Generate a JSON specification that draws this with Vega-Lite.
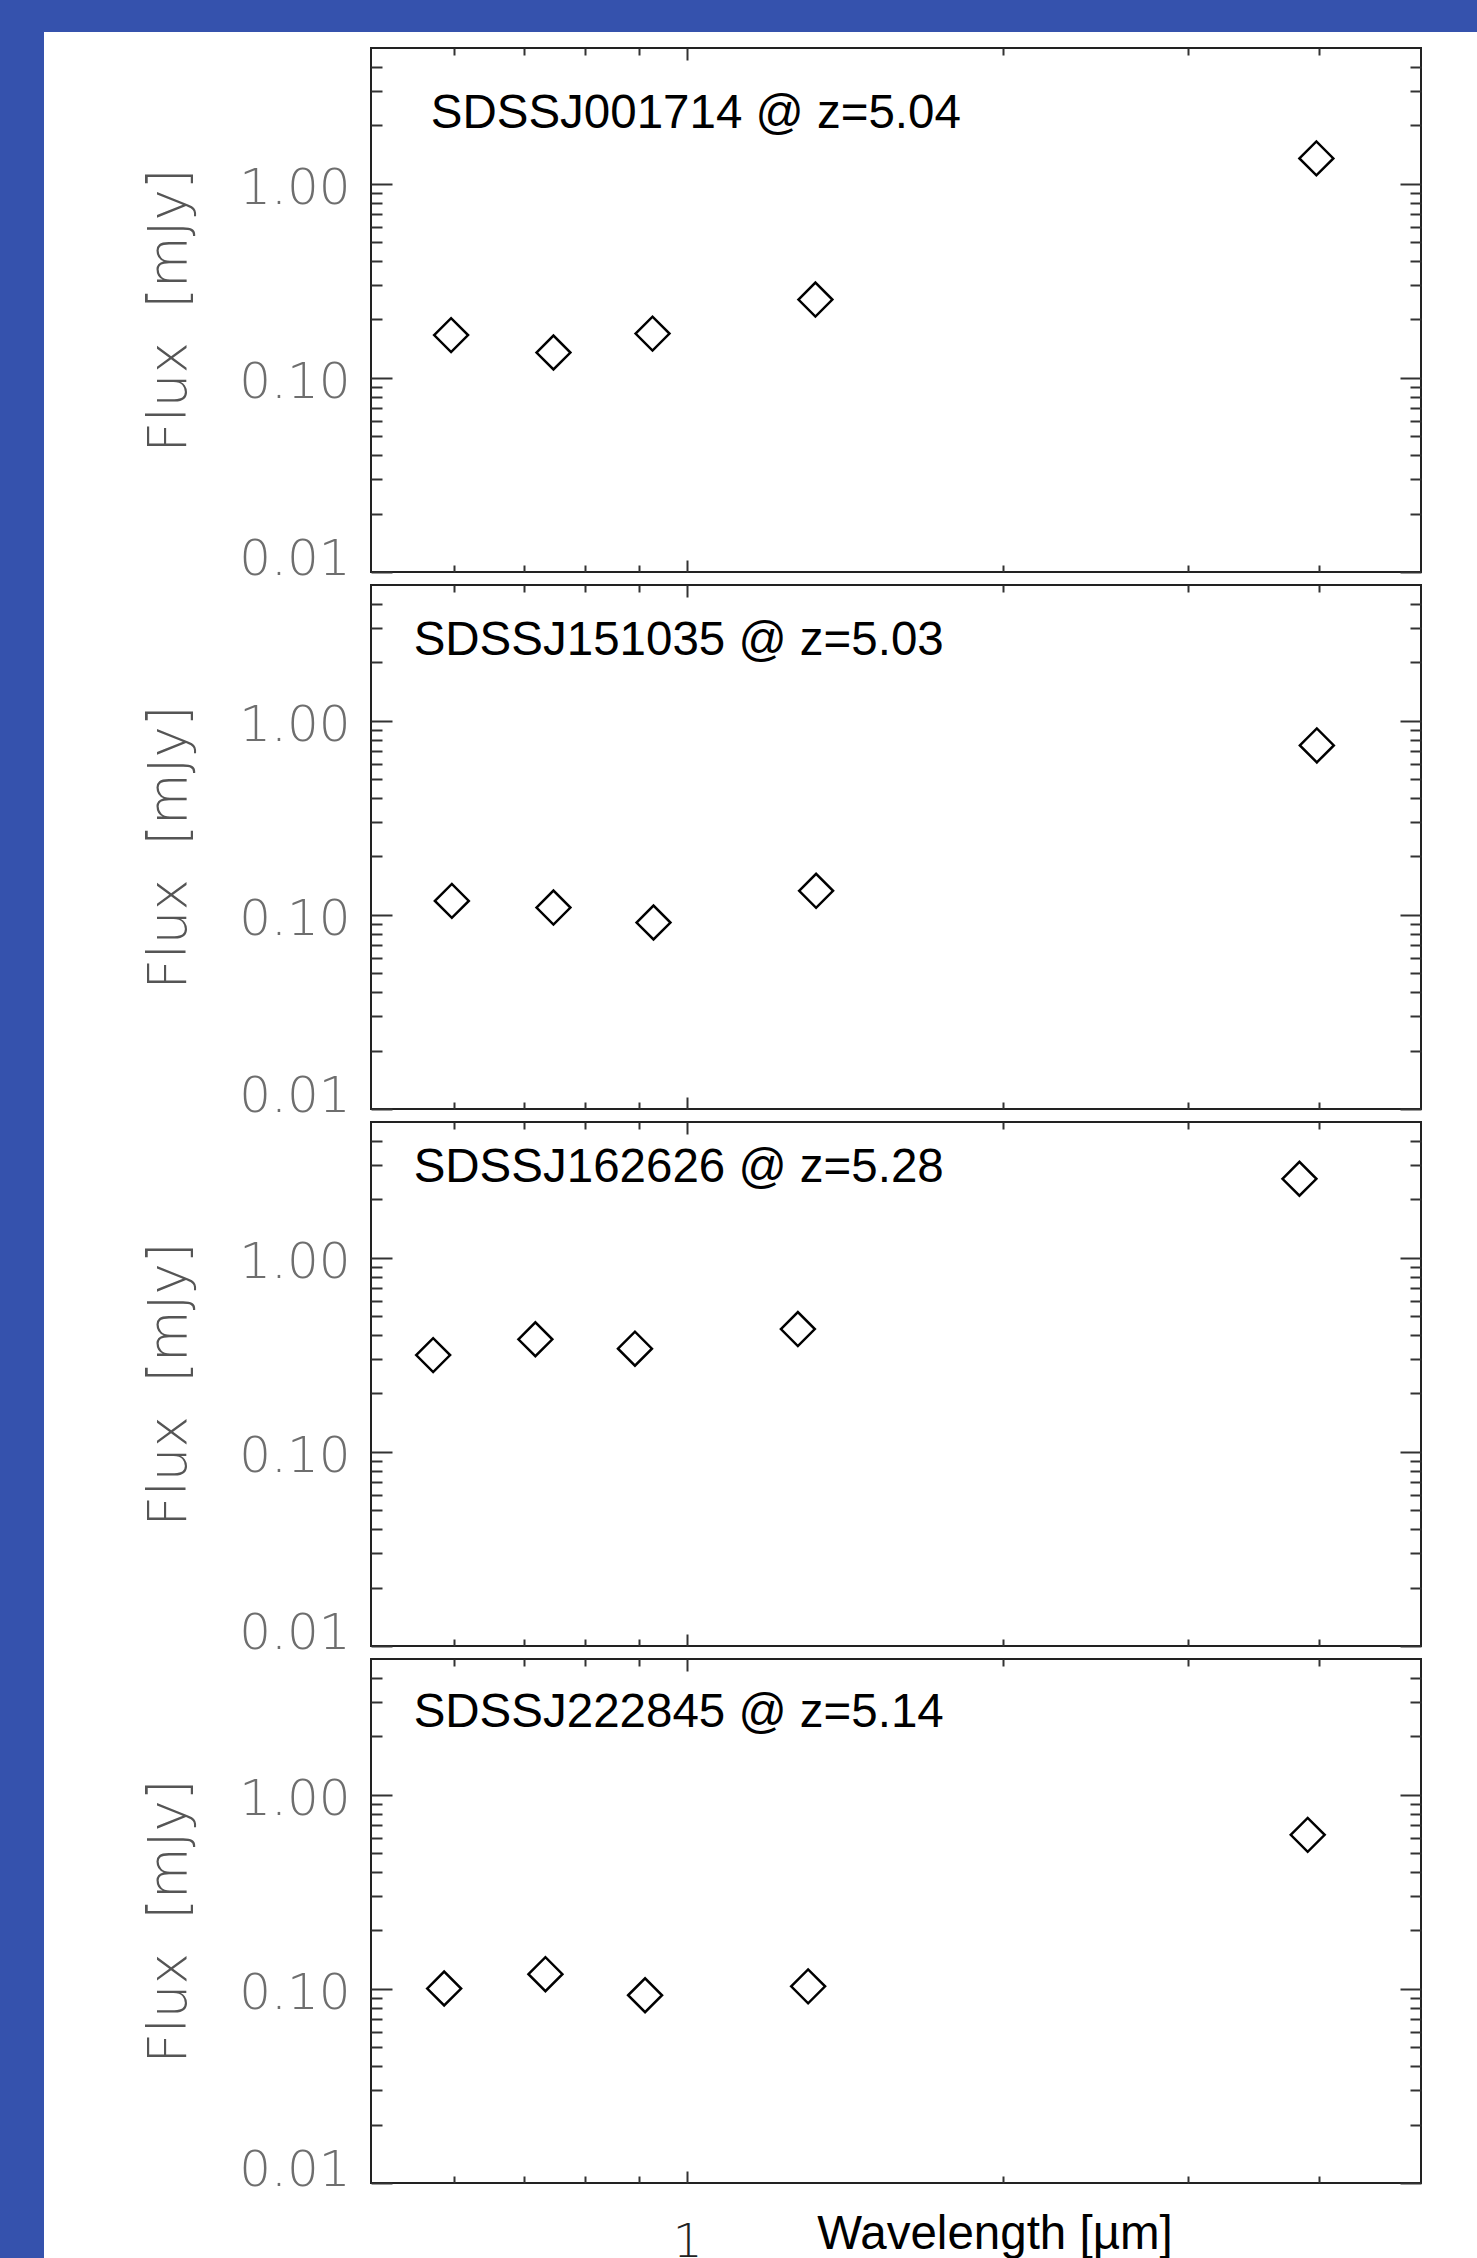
{
  "$schema": "https://vega.github.io/schema/vega-lite/v6.json",
  "background": "white",
  "padding": {"left": 0, "top": 0, "right": 0, "bottom": 0},
  "bounds": "flush",
  "spacing": 0,
  "config": {
    "view": {"stroke": "#222222", "strokeWidth": 2, "fill": "white"},
    "axis": {
      "domain": false,
      "grid": false,
      "tickColor": "#333333",
      "tickWidth": 2,
      "labelFont": "DejaVu Sans",
      "labelFontWeight": 200,
      "labelFontSize": 50,
      "labelColor": "#6e6e6e"
    }
  },
  "datasets": {
    "sed": [
      {"quasar": "SDSSJ001714", "wavelength": 0.596, "flux": 0.166},
      {"quasar": "SDSSJ001714", "wavelength": 0.746, "flux": 0.135},
      {"quasar": "SDSSJ001714", "wavelength": 0.927, "flux": 0.169},
      {"quasar": "SDSSJ001714", "wavelength": 1.325, "flux": 0.253},
      {"quasar": "SDSSJ001714", "wavelength": 3.975, "flux": 1.35},
      {"quasar": "SDSSJ151035", "wavelength": 0.597, "flux": 0.118},
      {"quasar": "SDSSJ151035", "wavelength": 0.746, "flux": 0.109},
      {"quasar": "SDSSJ151035", "wavelength": 0.929, "flux": 0.0913},
      {"quasar": "SDSSJ151035", "wavelength": 1.327, "flux": 0.133},
      {"quasar": "SDSSJ151035", "wavelength": 3.979, "flux": 0.746},
      {"quasar": "SDSSJ162626", "wavelength": 0.573, "flux": 0.315},
      {"quasar": "SDSSJ162626", "wavelength": 0.717, "flux": 0.38},
      {"quasar": "SDSSJ162626", "wavelength": 0.892, "flux": 0.34},
      {"quasar": "SDSSJ162626", "wavelength": 1.275, "flux": 0.429},
      {"quasar": "SDSSJ162626", "wavelength": 3.83, "flux": 2.55},
      {"quasar": "SDSSJ222845", "wavelength": 0.587, "flux": 0.1004},
      {"quasar": "SDSSJ222845", "wavelength": 0.733, "flux": 0.119},
      {"quasar": "SDSSJ222845", "wavelength": 0.912, "flux": 0.0927},
      {"quasar": "SDSSJ222845", "wavelength": 1.304, "flux": 0.103},
      {"quasar": "SDSSJ222845", "wavelength": 3.9, "flux": 0.621}
    ]
  },
  "vconcat": [
    {
      "width": 1477, "height": 32,
      "view": {"fill": "#3552ad", "stroke": null},
      "data": {"values": []},
      "mark": "point"
    },
    {
      "bounds": "flush",
      "spacing": 327,
      "hconcat": [
        {
          "width": 44, "height": 2226,
          "view": {"fill": "#3552ad", "stroke": null},
          "data": {"values": []},
          "mark": "point"
        },
        {
          "bounds": "flush",
          "spacing": 13,
          "vconcat": [
            {
              "width": 1050, "height": 2.5,
              "view": {"fill": null, "stroke": null},
              "data": {"values": []},
              "mark": "point"
            },
            {
              "width": 1050, "height": 524,
              "layer": [
                {
                  "data": {"name": "sed"},
                  "transform": [{"filter": "datum.quasar === 'SDSSJ001714'"}],
                  "mark": {"type": "point", "shape": "diamond", "size": 1150, "filled": false, "stroke": "black", "strokeWidth": 2.5, "opacity": 1},
                  "encoding": {
                    "x": {"field": "wavelength", "type": "quantitative", "scale": {"type": "log", "domain": [0.5, 5], "nice": false},
                      "axis": {"orient": "bottom", "values": [0.6, 0.7, 0.8, 0.9, 1, 2, 3, 4], "tickSize": {"condition": {"test": "datum.value == 1", "value": -12}, "value": -7}, "labels": false, "title": null}},
                    "y": {"field": "flux", "type": "quantitative", "scale": {"type": "log", "domain": [0.01, 5], "nice": false},
                      "axis": {"orient": "left", "values": [0.01, 0.02, 0.03, 0.04, 0.05, 0.06, 0.07, 0.08, 0.09, 0.1, 0.2, 0.3, 0.4, 0.5, 0.6, 0.7, 0.8, 0.9, 1, 2, 3, 4],
                        "tickSize": {"condition": {"test": "abs(log(datum.value)/LN10 - round(log(datum.value)/LN10)) < 0.001", "value": -21}, "value": -11},
                        "labelExpr": "abs(log(datum.value)/LN10 - round(log(datum.value)/LN10)) < 0.001 ? format(datum.value, '.2f') : ''",
                        "labelPadding": 42, "labelOffset": 5, "labelFlush": true, "labelFlushOffset": 7,
                        "title": "Flux\u00a0\u00a0[mJy]", "titleFont": "DejaVu Sans", "titleFontWeight": 200, "titleFontSize": 53, "titleColor": "#555555",
                        "titleX": -202, "titleBaseline": "middle"}}
                  }
                },
                {
                  "data": {"values": [{"label": "SDSSJ001714 @ z=5.04"}]},
                  "mark": {"type": "text", "font": "Liberation Sans", "fontSize": 47.5, "align": "left", "baseline": "alphabetic", "color": "black"},
                  "encoding": {
                    "x": {"datum": 0.57, "type": "quantitative", "scale": {"type": "log", "domain": [0.5, 5], "nice": false},
                      "axis": {"orient": "top", "values": [0.6, 0.7, 0.8, 0.9, 1, 2, 3, 4], "tickSize": {"condition": {"test": "datum.value == 1", "value": -12}, "value": -7}, "labels": false, "title": null}},
                    "y": {"datum": 1.94, "type": "quantitative", "scale": {"type": "log", "domain": [0.01, 5], "nice": false},
                      "axis": {"orient": "right", "values": [0.01, 0.02, 0.03, 0.04, 0.05, 0.06, 0.07, 0.08, 0.09, 0.1, 0.2, 0.3, 0.4, 0.5, 0.6, 0.7, 0.8, 0.9, 1, 2, 3, 4],
                        "tickSize": {"condition": {"test": "abs(log(datum.value)/LN10 - round(log(datum.value)/LN10)) < 0.001", "value": -21}, "value": -11},
                        "labels": false, "title": null}},
                    "text": {"field": "label"}
                  }
                }
              ],
              "resolve": {"axis": {"x": "independent", "y": "independent"}}
            },
            {
              "width": 1050, "height": 524,
              "layer": [
                {
                  "data": {"name": "sed"},
                  "transform": [{"filter": "datum.quasar === 'SDSSJ151035'"}],
                  "mark": {"type": "point", "shape": "diamond", "size": 1150, "filled": false, "stroke": "black", "strokeWidth": 2.5, "opacity": 1},
                  "encoding": {
                    "x": {"field": "wavelength", "type": "quantitative", "scale": {"type": "log", "domain": [0.5, 5], "nice": false},
                      "axis": {"orient": "bottom", "values": [0.6, 0.7, 0.8, 0.9, 1, 2, 3, 4], "tickSize": {"condition": {"test": "datum.value == 1", "value": -12}, "value": -7}, "labels": false, "title": null}},
                    "y": {"field": "flux", "type": "quantitative", "scale": {"type": "log", "domain": [0.01, 5], "nice": false},
                      "axis": {"orient": "left", "values": [0.01, 0.02, 0.03, 0.04, 0.05, 0.06, 0.07, 0.08, 0.09, 0.1, 0.2, 0.3, 0.4, 0.5, 0.6, 0.7, 0.8, 0.9, 1, 2, 3, 4],
                        "tickSize": {"condition": {"test": "abs(log(datum.value)/LN10 - round(log(datum.value)/LN10)) < 0.001", "value": -21}, "value": -11},
                        "labelExpr": "abs(log(datum.value)/LN10 - round(log(datum.value)/LN10)) < 0.001 ? format(datum.value, '.2f') : ''",
                        "labelPadding": 42, "labelOffset": 5, "labelFlush": true, "labelFlushOffset": 7,
                        "title": "Flux\u00a0\u00a0[mJy]", "titleFont": "DejaVu Sans", "titleFontWeight": 200, "titleFontSize": 53, "titleColor": "#555555",
                        "titleX": -202, "titleBaseline": "middle"}}
                  }
                },
                {
                  "data": {"values": [{"label": "SDSSJ151035 @ z=5.03"}]},
                  "mark": {"type": "text", "font": "Liberation Sans", "fontSize": 47.5, "align": "left", "baseline": "alphabetic", "color": "black"},
                  "encoding": {
                    "x": {"datum": 0.549, "type": "quantitative", "scale": {"type": "log", "domain": [0.5, 5], "nice": false},
                      "axis": {"orient": "top", "values": [0.6, 0.7, 0.8, 0.9, 1, 2, 3, 4], "tickSize": {"condition": {"test": "datum.value == 1", "value": -12}, "value": -7}, "labels": false, "title": null}},
                    "y": {"datum": 2.17, "type": "quantitative", "scale": {"type": "log", "domain": [0.01, 5], "nice": false},
                      "axis": {"orient": "right", "values": [0.01, 0.02, 0.03, 0.04, 0.05, 0.06, 0.07, 0.08, 0.09, 0.1, 0.2, 0.3, 0.4, 0.5, 0.6, 0.7, 0.8, 0.9, 1, 2, 3, 4],
                        "tickSize": {"condition": {"test": "abs(log(datum.value)/LN10 - round(log(datum.value)/LN10)) < 0.001", "value": -21}, "value": -11},
                        "labels": false, "title": null}},
                    "text": {"field": "label"}
                  }
                }
              ],
              "resolve": {"axis": {"x": "independent", "y": "independent"}}
            },
            {
              "width": 1050, "height": 524,
              "layer": [
                {
                  "data": {"name": "sed"},
                  "transform": [{"filter": "datum.quasar === 'SDSSJ162626'"}],
                  "mark": {"type": "point", "shape": "diamond", "size": 1150, "filled": false, "stroke": "black", "strokeWidth": 2.5, "opacity": 1},
                  "encoding": {
                    "x": {"field": "wavelength", "type": "quantitative", "scale": {"type": "log", "domain": [0.5, 5], "nice": false},
                      "axis": {"orient": "bottom", "values": [0.6, 0.7, 0.8, 0.9, 1, 2, 3, 4], "tickSize": {"condition": {"test": "datum.value == 1", "value": -12}, "value": -7}, "labels": false, "title": null}},
                    "y": {"field": "flux", "type": "quantitative", "scale": {"type": "log", "domain": [0.01, 5], "nice": false},
                      "axis": {"orient": "left", "values": [0.01, 0.02, 0.03, 0.04, 0.05, 0.06, 0.07, 0.08, 0.09, 0.1, 0.2, 0.3, 0.4, 0.5, 0.6, 0.7, 0.8, 0.9, 1, 2, 3, 4],
                        "tickSize": {"condition": {"test": "abs(log(datum.value)/LN10 - round(log(datum.value)/LN10)) < 0.001", "value": -21}, "value": -11},
                        "labelExpr": "abs(log(datum.value)/LN10 - round(log(datum.value)/LN10)) < 0.001 ? format(datum.value, '.2f') : ''",
                        "labelPadding": 42, "labelOffset": 5, "labelFlush": true, "labelFlushOffset": 7,
                        "title": "Flux\u00a0\u00a0[mJy]", "titleFont": "DejaVu Sans", "titleFontWeight": 200, "titleFontSize": 53, "titleColor": "#555555",
                        "titleX": -202, "titleBaseline": "middle"}}
                  }
                },
                {
                  "data": {"values": [{"label": "SDSSJ162626 @ z=5.28"}]},
                  "mark": {"type": "text", "font": "Liberation Sans", "fontSize": 47.5, "align": "left", "baseline": "alphabetic", "color": "black"},
                  "encoding": {
                    "x": {"datum": 0.549, "type": "quantitative", "scale": {"type": "log", "domain": [0.5, 5], "nice": false},
                      "axis": {"orient": "top", "values": [0.6, 0.7, 0.8, 0.9, 1, 2, 3, 4], "tickSize": {"condition": {"test": "datum.value == 1", "value": -12}, "value": -7}, "labels": false, "title": null}},
                    "y": {"datum": 2.44, "type": "quantitative", "scale": {"type": "log", "domain": [0.01, 5], "nice": false},
                      "axis": {"orient": "right", "values": [0.01, 0.02, 0.03, 0.04, 0.05, 0.06, 0.07, 0.08, 0.09, 0.1, 0.2, 0.3, 0.4, 0.5, 0.6, 0.7, 0.8, 0.9, 1, 2, 3, 4],
                        "tickSize": {"condition": {"test": "abs(log(datum.value)/LN10 - round(log(datum.value)/LN10)) < 0.001", "value": -21}, "value": -11},
                        "labels": false, "title": null}},
                    "text": {"field": "label"}
                  }
                }
              ],
              "resolve": {"axis": {"x": "independent", "y": "independent"}}
            },
            {
              "width": 1050, "height": 524,
              "layer": [
                {
                  "data": {"name": "sed"},
                  "transform": [{"filter": "datum.quasar === 'SDSSJ222845'"}],
                  "mark": {"type": "point", "shape": "diamond", "size": 1150, "filled": false, "stroke": "black", "strokeWidth": 2.5, "opacity": 1},
                  "encoding": {
                    "x": {"field": "wavelength", "type": "quantitative", "scale": {"type": "log", "domain": [0.5, 5], "nice": false},
                      "axis": {"orient": "bottom", "values": [0.6, 0.7, 0.8, 0.9, 1, 2, 3, 4], "tickSize": {"condition": {"test": "datum.value == 1", "value": -12}, "value": -7},
                        "labelExpr": "datum.value == 1 ? '1' : ''", "labelColor": "#222222", "labelFontSize": 47, "labelPadding": 48,
                        "title": "Wavelength [µm]", "titleFont": "Liberation Sans", "titleFontSize": 47.5, "titleFontWeight": "normal", "titleColor": "black",
                        "titleX": 623.5, "titleY": 65, "titleAlign": "center", "titleBaseline": "alphabetic"}},
                    "y": {"field": "flux", "type": "quantitative", "scale": {"type": "log", "domain": [0.01, 5], "nice": false},
                      "axis": {"orient": "left", "values": [0.01, 0.02, 0.03, 0.04, 0.05, 0.06, 0.07, 0.08, 0.09, 0.1, 0.2, 0.3, 0.4, 0.5, 0.6, 0.7, 0.8, 0.9, 1, 2, 3, 4],
                        "tickSize": {"condition": {"test": "abs(log(datum.value)/LN10 - round(log(datum.value)/LN10)) < 0.001", "value": -21}, "value": -11},
                        "labelExpr": "abs(log(datum.value)/LN10 - round(log(datum.value)/LN10)) < 0.001 ? format(datum.value, '.2f') : ''",
                        "labelPadding": 42, "labelOffset": 5, "labelFlush": true, "labelFlushOffset": 7,
                        "title": "Flux\u00a0\u00a0[mJy]", "titleFont": "DejaVu Sans", "titleFontWeight": 200, "titleFontSize": 53, "titleColor": "#555555",
                        "titleX": -202, "titleBaseline": "middle"}}
                  }
                },
                {
                  "data": {"values": [{"label": "SDSSJ222845 @ z=5.14"}]},
                  "mark": {"type": "text", "font": "Liberation Sans", "fontSize": 47.5, "align": "left", "baseline": "alphabetic", "color": "black"},
                  "encoding": {
                    "x": {"datum": 0.549, "type": "quantitative", "scale": {"type": "log", "domain": [0.5, 5], "nice": false},
                      "axis": {"orient": "top", "values": [0.6, 0.7, 0.8, 0.9, 1, 2, 3, 4], "tickSize": {"condition": {"test": "datum.value == 1", "value": -12}, "value": -7}, "labels": false, "title": null}},
                    "y": {"datum": 2.24, "type": "quantitative", "scale": {"type": "log", "domain": [0.01, 5], "nice": false},
                      "axis": {"orient": "right", "values": [0.01, 0.02, 0.03, 0.04, 0.05, 0.06, 0.07, 0.08, 0.09, 0.1, 0.2, 0.3, 0.4, 0.5, 0.6, 0.7, 0.8, 0.9, 1, 2, 3, 4],
                        "tickSize": {"condition": {"test": "abs(log(datum.value)/LN10 - round(log(datum.value)/LN10)) < 0.001", "value": -21}, "value": -11},
                        "labels": false, "title": null}},
                    "text": {"field": "label"}
                  }
                }
              ],
              "resolve": {"axis": {"x": "independent", "y": "independent"}}
            }
          ]
        }
      ]
    }
  ]
}
